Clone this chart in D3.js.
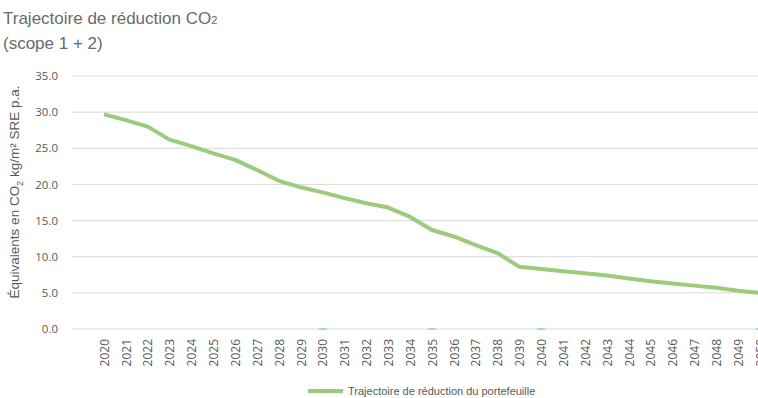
<!DOCTYPE html>
<html>
<head>
<meta charset="utf-8">
<script src="https://cdn.jsdelivr.net/npm/d3@7"></script>
<style>
  body { margin: 0; background: #fff; }
  svg { display: block; }
</style>
</head>
<body>
<div id="chart"></div>
<script>
const years = ["2020", "2021", "2022", "2023", "2024", "2025", "2026", "2027", "2028", "2029",
               "2030", "2031", "2032", "2033", "2034", "2035", "2036", "2037", "2038", "2039",
               "2040", "2041", "2042", "2043", "2044", "2045", "2046", "2047", "2048", "2049", "2050"];
const trajectory = [29.7, 28.9, 28.0, 26.2, 25.3, 24.3, 23.4, 22.0, 20.5, 19.6,
                    18.9, 18.1, 17.4, 16.8, 15.5, 13.7, 12.8, 11.6, 10.5, 8.6,
                    8.3, 8.0, 7.7, 7.4, 7.0, 6.6, 6.3, 6.0, 5.7, 5.3, 5.0];
const milestoneYears = ["2030", "2035", "2040", "2050"];
const yTicks = [0, 5, 10, 15, 20, 25, 30, 35];
const seriesName = "Trajectoire de réduction du portefeuille";

const width = 758, height = 398;
const grey = "#595959";
const lineColor = "#9ccb7c";

const svg = d3.select("#chart").append("svg")
    .attr("width", width)
    .attr("height", height);

// title
const title = svg.append("text")
    .attr("x", 3)
    .attr("font-family", "Liberation Sans, Arial, sans-serif")
    .attr("font-size", 17)
    .attr("font-weight", 300)
    .attr("fill", "#6a6a6a");
const t1 = title.append("tspan").attr("x", 3).attr("y", 24).text("Trajectoire de réduction CO");
t1.append("tspan").attr("font-size", 11).text("2");
title.append("tspan").attr("x", 3).attr("y", 49).text("(scope 1 + 2)");

const x = d3.scalePoint()
    .domain(years)
    .range([104, 760]);

const y = d3.scaleLinear()
    .domain([0, 35])
    .range([329, 76]);

// gridlines
svg.append("g")
    .selectAll("line")
    .data(yTicks)
    .enter().append("line")
    .attr("x1", 72)
    .attr("x2", width)
    .attr("y1", d => y(d))
    .attr("y2", d => y(d))
    .attr("stroke", "#d9d9d9")
    .attr("stroke-width", 1);

// y axis labels
const yAxis = d3.axisLeft(y).tickValues(yTicks).tickFormat(d3.format(".1f")).tickSize(0).tickPadding(0);
svg.append("g")
    .attr("transform", "translate(58,0)")
    .call(yAxis)
    .call(g => g.select(".domain").remove())
    .selectAll("text")
    .attr("font-family", "Open Sans, sans-serif")
    .attr("font-size", 11.5)
    .attr("fill", grey);

// y axis title
const yTitle = svg.append("text")
    .attr("transform", "translate(19,192) rotate(-90)")
    .attr("text-anchor", "middle")
    .attr("font-family", "Liberation Sans, Arial, sans-serif")
    .attr("font-size", 13.5)
    .attr("font-weight", 300)
    .attr("fill", grey);
yTitle.append("tspan").text("Équivalents en CO");
yTitle.append("tspan").attr("font-size", 9).attr("dy", 4).text("2");
yTitle.append("tspan").attr("dy", -4).text(" kg/m² SRE p.a.");

// x axis labels (the last one runs off the right edge, as in the original)
const xAxis = d3.axisBottom(x).tickSize(0).tickPadding(0);
svg.append("g")
    .attr("transform", "translate(0,339)")
    .call(xAxis)
    .call(g => g.select(".domain").remove())
    .selectAll("text")
    .attr("transform", "rotate(-90)")
    .attr("text-anchor", "end")
    .attr("x", 0)
    .attr("y", 0)
    .attr("dx", 0)
    .attr("dy", "0.35em")
    .attr("font-family", "Open Sans, sans-serif")
    .attr("font-size", 12)
    .attr("fill", grey);

// milestone marks on the zero line
svg.append("g")
    .selectAll("line")
    .data(milestoneYears)
    .enter().append("line")
    .attr("x1", d => x(d) - 4)
    .attr("x2", d => x(d) + 4)
    .attr("y1", y(0))
    .attr("y2", y(0))
    .attr("stroke", "#a8dcc0")
    .attr("stroke-width", 2);

// trajectory line
const line = d3.line()
    .x((d, i) => x(years[i]))
    .y(d => y(d));

svg.append("path")
    .datum(trajectory)
    .attr("d", line)
    .attr("fill", "none")
    .attr("stroke", lineColor)
    .attr("stroke-width", 4)
    .attr("stroke-linejoin", "round");

// legend
const legend = svg.append("g").attr("transform", "translate(308,391)");
legend.append("line")
    .attr("x1", 0)
    .attr("x2", 35)
    .attr("stroke", lineColor)
    .attr("stroke-width", 4);
legend.append("text")
    .attr("x", 40)
    .attr("y", 4)
    .attr("font-family", "Liberation Sans, Arial, sans-serif")
    .attr("font-size", 11)
    .attr("font-weight", 300)
    .attr("fill", grey)
    .text(seriesName);
</script>
</body>
</html>
